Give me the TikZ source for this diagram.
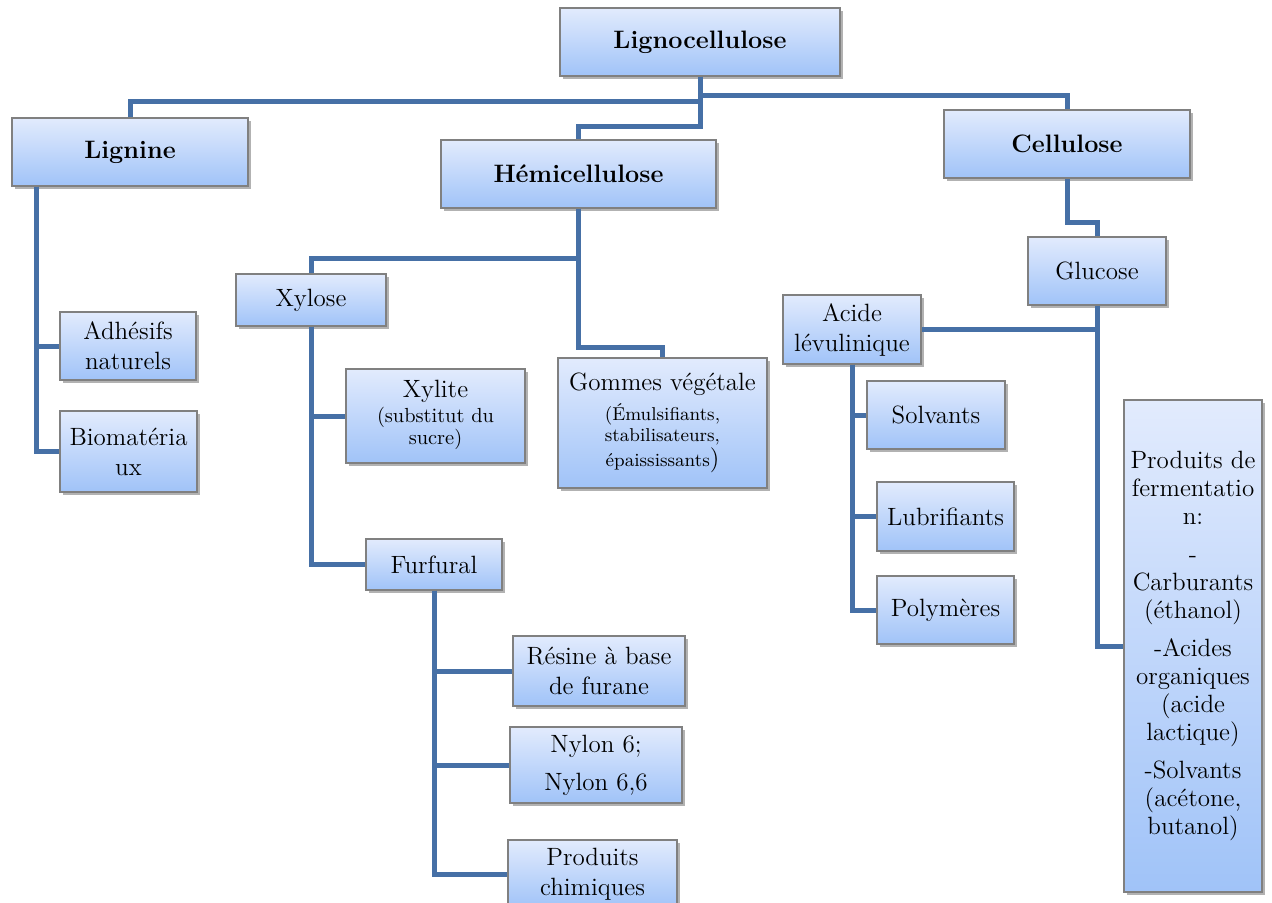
\documentclass[tikz,border=0pt]{standalone}
\usetikzlibrary{shadows}
\definecolor{linkblue}{RGB}{70,112,166}
\definecolor{boxtop}{RGB}{226,235,253}
\definecolor{boxbot}{RGB}{160,195,248}
\newcommand{\smallfnt}{\fontsize{9.3}{10.6}\selectfont}
\newcommand{\midfnt}{\fontsize{10.2}{11.2}\selectfont}

\begin{document}
\begin{tikzpicture}[x=0.5pt,y=-0.5pt,
   box/.style={draw=gray, line width=0.6pt, top color=boxtop, bottom color=boxbot,
      drop shadow={shadow xshift=1.5pt, shadow yshift=-1.5pt, opacity=0.3, fill=black},
      align=center, inner sep=1pt, font=\fontsize{12.5}{15}\selectfont},
   head/.style={box, font=\fontsize{12.6}{15}\selectfont\bfseries},
   link/.style={draw=linkblue, line width=2.5pt}]
   \useasboundingbox (0,0) rectangle (1272,903);
   \clip (0,0) rectangle (1272,903);
   % top levels
   \node[head, minimum width=140pt, minimum height=34pt] (ligno) at (700,42) {Lignocellulose};
   \node[head, minimum width=118pt, minimum height=34pt] (lignine) at (130,152) {Lignine};
   \node[head, minimum width=137.5pt, minimum height=34pt] (hemi) at (578.5,174) {Hémicellulose};
   \node[head, minimum width=123pt, minimum height=34pt] (cellu) at (1067,144) {Cellulose};
   % lignine
   \node[box, minimum width=68pt, minimum height=34pt] (adhesifs) at (128,346) {Adhésifs\\naturels};
   \node[box, minimum width=68.5pt, minimum height=40.5pt] (biomat) at (128.5,451.5) {Biomatéria\\ux};
   % hemicellulose
   \node[box, minimum width=75pt, minimum height=26pt] (xylose) at (311,300) {Xylose};
   \node[box, minimum width=89.5pt, minimum height=47pt] (xylite) at (435.5,416)
      {Xylite\\[1pt]\midfnt\begin{tabular}{@{}c@{}}(substitut du\\sucre)\end{tabular}};
   \node[box, minimum width=104.5pt, minimum height=65pt] (gommes) at (662.5,423)
      {Gommes végétale\\[3pt]\smallfnt\begin{tabular}{@{}c@{}}(Émulsifiants,\\stabilisateurs,\\épaississants{\fontsize{12.5}{14}\selectfont)}\end{tabular}};
   \node[box, minimum width=68pt, minimum height=25.5pt] (furfural) at (434,564.5) {Furfural};
   \node[box, minimum width=86pt, minimum height=35pt] (resine) at (599,671) {Résine à base\\de furane};
   \node[box, minimum width=86pt, minimum height=38pt] (nylon) at (596,765) {Nylon 6;\\[4pt]Nylon 6,6};
   \node[box, minimum width=84.5pt, minimum height=34pt] (chimiques) at (592.5,874) {Produits\\chimiques};
   % cellulose
   \node[box, minimum width=69pt, minimum height=34pt] (glucose) at (1097,271) {Glucose};
   \node[box, minimum width=69pt, minimum height=34.5pt] (acide) at (852,329.5) {Acide\\lévulinique};
   \node[box, minimum width=69pt, minimum height=34pt] (solvants) at (936,415) {Solvants};
   \node[box, minimum width=68.5pt, minimum height=34.5pt] (lubri) at (945.5,516.5) {Lubrifiants};
   \node[box, minimum width=68.5pt, minimum height=34pt] (polym) at (945.5,610) {Polymères};
   \node[box, minimum width=69pt, minimum height=246pt, font=\fontsize{12.5}{14}\selectfont] (ferment) at (1193,646)
      {Produits de\\fermentatio\\n:\\[5pt]-\\Carburants\\(éthanol)\\[5pt]-Acides\\organiques\\(acide\\lactique)\\[5pt]-Solvants\\(acétone,\\butanol)};
   % connectors
   \draw[link] (ligno.south) -- ++(0,25) -| (lignine.north);
   \draw[link] (ligno.south) -- ++(0,19) -| (cellu.north);
   \draw[link] (ligno.south) -- ++(0,50) -| (hemi.north);
   \draw[link] ([xshift=12.5pt]lignine.south west) |- (adhesifs.west);
   \draw[link] ([xshift=12.5pt]lignine.south west) |- (biomat.west);
   \draw[link] (hemi.south) -- ++(0,50) -| (xylose.north);
   \draw[link] (hemi.south) -- ++(0,139) -| (gommes.north);
   \draw[link] (xylose.south) |- (xylite.west);
   \draw[link] (xylose.south) |- (furfural.west);
   \draw[link] (furfural.south) |- (resine.west);
   \draw[link] (furfural.south) |- (nylon.west);
   \draw[link] (furfural.south) |- (chimiques.west);
   \draw[link] (cellu.south) -- ++(0,44) -| (glucose.north);
   \draw[link] (glucose.south) |- (acide.east);
   \draw[link] (glucose.south) |- (ferment.west);
   \draw[link] (acide.south) |- (solvants.west);
   \draw[link] (acide.south) |- (lubri.west);
   \draw[link] (acide.south) |- (polym.west);
\end{tikzpicture}
\end{document}
